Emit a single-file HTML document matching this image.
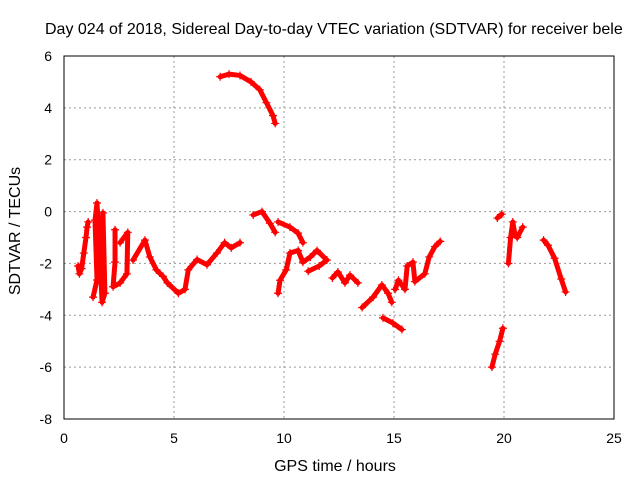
<!DOCTYPE html>
<html><head><meta charset="utf-8"><style>
body{margin:0;background:#fff}
svg{display:block;font-family:"Liberation Sans",sans-serif;font-size:14px}
</style></head><body>
<svg id="chart" width="640" height="480">
<text x="45" y="34" font-size="16">Day 024 of 2018, Sidereal Day-to-day VTEC variation (SDTVAR) for receiver bele</text>
<g id="grid"></g><g id="ticks"></g><g id="data"></g>
<rect x="64" y="56" width="550" height="363" fill="none" stroke="#000" stroke-width="1"/>
<text x="20" y="231" font-size="16" transform="rotate(-90 20 231)" text-anchor="middle">SDTVAR / TECUs</text>
<text x="335" y="471" font-size="16" text-anchor="middle">GPS time / hours</text>
</svg>
<script>
const xTicks=[0,5,10,15,20,25];
const yTicks=[6,4,2,0,-2,-4,-6,-8];
const segments=[
 [[0.64,-2.1],[0.7,-2.4],[0.8,-2.2],[0.9,-1.6],[1.0,-1.0],[1.05,-0.6],[1.1,-0.4]],
 [[1.32,-3.3],[1.5,-2.64],[1.41,-0.33],[1.5,0.33],[1.64,-1.75],[1.73,-3.5],[1.86,-3.15],[1.77,-0.05],[1.7,-1.0]],
 [[2.32,-0.7],[2.32,-1.95],[2.23,-2.9],[2.55,-2.75],[2.86,-2.4],[2.9,-0.8],[2.55,-1.2]],
 [[3.14,-1.87],[3.68,-1.1],[3.9,-1.75],[4.2,-2.25],[4.5,-2.5],[4.7,-2.75],[5.2,-3.15],[5.5,-3.0],[5.65,-2.25],[6.05,-1.85],[6.5,-2.05],[6.95,-1.6],[7.3,-1.2],[7.6,-1.4],[8.0,-1.2]],
 [[7.1,5.2],[7.5,5.3],[8.0,5.25],[8.5,5.0],[8.9,4.7],[9.2,4.2],[9.5,3.7],[9.6,3.4]],
 [[8.6,-0.13],[9.0,0.0],[9.36,-0.45],[9.6,-0.8]],
 [[9.73,-0.4],[10.27,-0.6],[10.64,-0.83],[10.86,-1.2]],
 [[9.73,-3.15],[9.82,-2.65],[10.1,-2.25],[10.27,-1.6],[10.64,-1.5],[10.86,-1.95],[11.2,-1.75],[11.5,-1.5],[11.95,-1.87],[11.6,-2.1],[11.1,-2.3]],
 [[12.2,-2.56],[12.45,-2.33],[12.77,-2.75],[13.0,-2.45],[13.36,-2.75]],
 [[13.55,-3.7],[14.05,-3.3],[14.45,-2.83],[14.73,-3.15],[14.9,-3.5]],
 [[14.5,-4.1],[14.95,-4.3],[15.36,-4.55]],
 [[15.05,-3.0],[15.2,-2.65],[15.5,-3.0],[15.6,-2.1],[15.86,-1.95],[15.95,-2.7],[16.4,-2.4],[16.6,-1.75],[16.86,-1.35],[17.1,-1.15]],
 [[19.45,-6.0],[19.6,-5.5],[19.8,-5.0],[19.95,-4.5]],
 [[19.7,-0.25],[19.9,-0.1]],
 [[20.2,-2.0],[20.3,-1.0],[20.4,-0.4],[20.5,-0.9],[20.6,-1.0],[20.85,-0.6]],
 [[21.8,-1.1],[22.0,-1.3],[22.3,-1.8],[22.6,-2.6],[22.8,-3.1]]
];
const NS="http://www.w3.org/2000/svg";
const X=t=>64+t*22, Y=v=>56+(6-v)*(363/14);
function mk(tag,attrs,parent){const e=document.createElementNS(NS,tag);for(const k in attrs)e.setAttribute(k,attrs[k]);parent.appendChild(e);return e;}
const g=document.getElementById('grid'),tk=document.getElementById('ticks'),d=document.getElementById('data');
xTicks.forEach(t=>{
 if(t>0&&t<25){const l=mk('line',{x1:X(t),x2:X(t),y1:56,y2:419,stroke:'#999','stroke-dasharray':'2,3'},g);
 
 }
 const tx=mk('text',{x:X(t),y:443,'text-anchor':'middle'},tk);tx.textContent=t;
 
 
});
yTicks.forEach(v=>{
 if(v<6&&v>-8){const l=mk('line',{x1:64,x2:614,y1:Y(v),y2:Y(v),stroke:'#999','stroke-dasharray':'2,3'},g);
 
 }
 const tx=mk('text',{x:52,y:Y(v)+5,'text-anchor':'end'},tk);tx.textContent=v;
 
 
});
segments.forEach(seg=>{
 const pl=mk('polyline',{points:seg.map(p=>X(p[0])+','+Y(p[1])).join(' '),fill:'none',stroke:'#f00','stroke-width':5,'stroke-linejoin':'round','stroke-linecap':'round'},d);
 
 
 seg.forEach(p=>{
  const x=X(p[0]),y=Y(p[1]);
  const m=mk('path',{d:`M${x-4},${y}H${x+4}M${x},${y-4}V${y+4}`,stroke:'#f00','stroke-width':1.2},d);
  
  
 });
});
</script>
</body></html>
